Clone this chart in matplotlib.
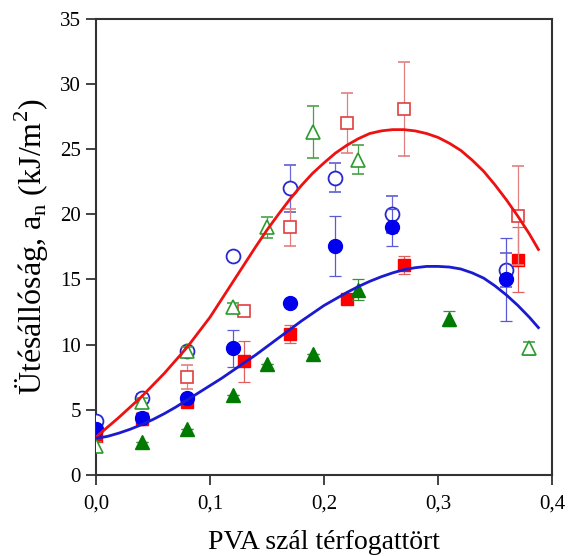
import matplotlib
matplotlib.use("Agg")
import matplotlib.pyplot as plt

plt.rcParams['font.family'] = ['Liberation Serif', 'DejaVu Serif']
plt.rcParams['mathtext.fontset'] = 'custom'
plt.rcParams['mathtext.rm'] = 'Liberation Serif'

# open blue circles
oc_x = [0.00, 0.04, 0.08, 0.12, 0.17, 0.21, 0.26, 0.36]
oc_y = [4.1, 5.9, 9.5, 16.8, 22.0, 22.8, 20.0, 15.7]
oc_e = [0.3, 0.3, 0.3, 0.0, 1.8, 1.1, 1.4, 1.3]

# filled blue circles
fc_x = [0.00, 0.04, 0.08, 0.12, 0.17, 0.21, 0.26, 0.36]
fc_y = [3.5, 4.4, 5.9, 9.7, 13.2, 17.6, 19.0, 15.0]
fc_e = [0.0, 0.3, 0.3, 1.4, 0.0, 2.3, 1.4, 3.2]

# open red squares
os_x = [0.08, 0.13, 0.17, 0.22, 0.27, 0.37]
os_y = [7.5, 12.6, 19.0, 27.0, 28.1, 19.9]
os_e = [0.9, 0.0, 1.4, 2.3, 3.6, 3.8]

# filled red squares
fs_x = [0.00, 0.04, 0.08, 0.13, 0.17, 0.22, 0.27, 0.37]
fs_y = [3.0, 4.3, 5.6, 8.7, 10.8, 13.5, 16.1, 16.5]
fs_e = [0.0, 0.5, 0.3, 1.6, 0.7, 0.3, 0.7, 2.5]

# open green triangles
ot_x = [0.00, 0.04, 0.08, 0.12, 0.15, 0.19, 0.23, 0.38]
ot_y = [2.2, 5.6, 9.5, 12.9, 19.0, 26.3, 24.2, 9.7]
ot_e = [0.3, 0.3, 0.3, 0.3, 0.8, 2.0, 1.1, 0.5]

# filled green triangles
ft_x = [0.04, 0.08, 0.12, 0.15, 0.19, 0.23, 0.31]
ft_y = [2.5, 3.55, 6.1, 8.5, 9.3, 14.2, 12.0]
ft_e = [0.0, 0.0, 0.0, 0.0, 0.0, 0.8, 0.6]

# fitted curves
red_x = [0.00, 0.01, 0.02, 0.03, 0.04, 0.05, 0.06, 0.07, 0.08, 0.09, 0.10,
         0.11, 0.12, 0.13, 0.14, 0.15, 0.16, 0.17, 0.18, 0.19, 0.20,
         0.21, 0.22, 0.23, 0.24, 0.25, 0.26, 0.27, 0.28, 0.29, 0.30,
         0.31, 0.32, 0.33, 0.34, 0.35, 0.36, 0.37, 0.38, 0.388]
red_y = [2.9, 3.65, 4.4, 5.2, 6.0, 6.9, 7.8, 8.8, 9.8, 10.95, 12.1,
         13.45, 14.8, 16.15, 17.5, 18.8, 20.0, 21.15, 22.2, 23.15, 23.95,
         24.7, 25.3, 25.8, 26.2, 26.4, 26.5, 26.5, 26.4, 26.2, 25.9,
         25.45, 24.9, 24.15, 23.3, 22.25, 21.1, 19.85, 18.5, 17.3]
blue_x = [0.00, 0.01, 0.02, 0.03, 0.04, 0.05, 0.06, 0.07, 0.08, 0.09, 0.10,
          0.11, 0.12, 0.13, 0.14, 0.15, 0.16, 0.17, 0.18, 0.19, 0.20,
          0.21, 0.22, 0.23, 0.24, 0.25, 0.26, 0.27, 0.28, 0.29, 0.30,
          0.31, 0.32, 0.33, 0.34, 0.35, 0.36, 0.37, 0.38, 0.388]
blue_y = [2.8, 2.95, 3.2, 3.5, 3.85, 4.25, 4.7, 5.2, 5.75, 6.3, 6.85,
          7.4, 8.0, 8.6, 9.2, 9.85, 10.5, 11.15, 11.8, 12.4, 13.0,
          13.5, 14.0, 14.45, 14.85, 15.2, 15.5, 15.75, 15.9, 16.0, 16.0,
          15.95, 15.8, 15.5, 15.1, 14.5, 13.8, 13.0, 12.1, 11.3]

xticks = [0.0, 0.1, 0.2, 0.3, 0.4]
xtick_labels = ['0,0', '0,1', '0,2', '0,3', '0,4']
yticks = [0, 5, 10, 15, 20, 25, 30, 35]

fig = plt.figure(figsize=(5.68, 5.56), dpi=100)
ax = fig.add_axes([0.169, 0.146, 0.803, 0.820])

eb = dict(linestyle='none', capsize=4, elinewidth=0.9, capthick=0.9)

ax.errorbar(fs_x, fs_y, yerr=fs_e, marker='s', ms=8, mfc='#ff0000', mec='#ff0000',
            ecolor='#e06060', zorder=2, **eb)
ax.errorbar(oc_x, oc_y, yerr=oc_e, marker='o', ms=10, mfc='white', mec='#2828d0',
            mew=1.3, ecolor='#6a6ad8', zorder=3, **eb)
ax.errorbar(fc_x, fc_y, yerr=fc_e, marker='o', ms=10, mfc='#0000ee', mec='#0000ee',
            ecolor='#5a5ad8', zorder=4, **eb)
ax.errorbar(os_x, os_y, yerr=os_e, marker='s', ms=9, mfc='white', mec='#e04040',
            mew=1.2, ecolor='#e08080', zorder=5, **eb)
ax.errorbar(ot_x, ot_y, yerr=ot_e, marker='^', ms=10, mfc='white', mec='#2e9a2e',
            mew=1.2, ecolor='#4aa04a', zorder=6, **eb)
ax.errorbar(ft_x, ft_y, yerr=ft_e, marker='^', ms=10, mfc='#007a00', mec='#007a00',
            ecolor='#3a903a', zorder=7, **eb)

ax.plot(red_x, red_y, color='#ee1111', lw=2.0, zorder=8)
ax.plot(blue_x, blue_y, color='#1a1ad0', lw=2.0, zorder=8)

ax.set_xlim(0, 0.4)
ax.set_ylim(0, 35)
ax.set_xticks(xticks)
ax.set_xticklabels(xtick_labels)
ax.set_yticks(yticks)
ax.tick_params(direction='out', length=7, width=1.2, labelsize=15, pad=4,
               colors='#222222', labelcolor='black')
ax.tick_params(axis='x', pad=7)
for s in ax.spines.values():
    s.set_linewidth(1.5)
    s.set_color('#333333')
ax.set_xlabel('PVA szál térfogattört', fontsize=20, labelpad=12)
ax.set_ylabel('Ütésállóság, a$_\\mathrm{n}$ (kJ/m$^\\mathrm{2}$)', fontsize=23, labelpad=6)

fig.savefig('out.png', dpi=100)
